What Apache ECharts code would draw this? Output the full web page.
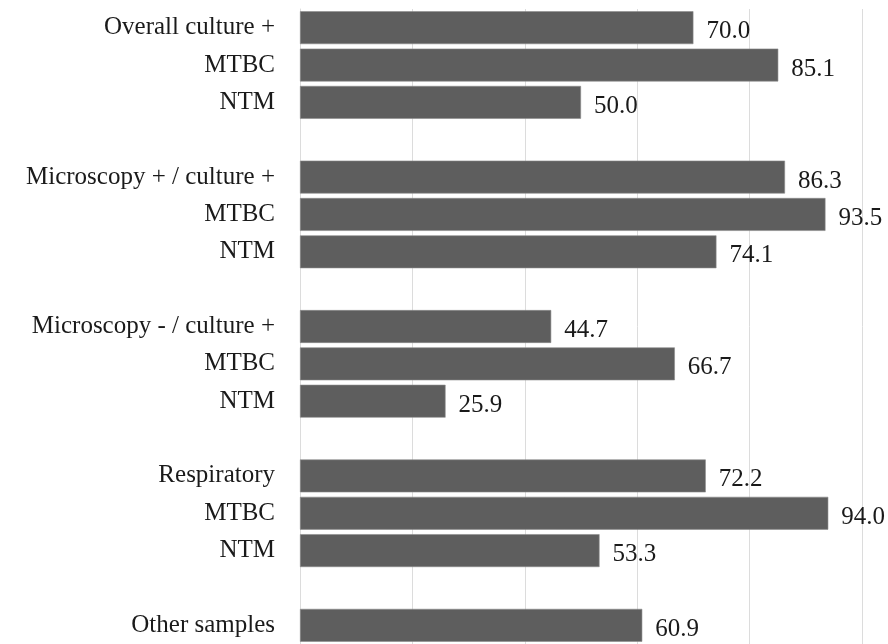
<!DOCTYPE html>
<html>
<head>
<meta charset="utf-8">
<script src="https://cdn.jsdelivr.net/npm/echarts@6/dist/echarts.min.js"></script>
<style>
  html, body { margin: 0; padding: 0; background: #ffffff; }
  #chart { width: 888px; height: 644px; }
</style>
</head>
<body>
<div id="chart"></div>
<script>
// Detection rates (%) per sample group; empty rows separate the groups
const rowLabels = [
  'Overall culture +', 'MTBC', 'NTM', '',
  'Microscopy + / culture +', 'MTBC', 'NTM', '',
  'Microscopy - / culture +', 'MTBC', 'NTM', '',
  'Respiratory', 'MTBC', 'NTM', '',
  'Other samples'
];
const rowValues = [
  70.0, 85.1, 50.0, null,
  86.3, 93.5, 74.1, null,
  44.7, 66.7, 25.9, null,
  72.2, 94.0, 53.3, null,
  60.9
];
const axisMin = 0;
const axisMax = 100;
const axisStep = 20;

// Unique keys per row so repeated names (MTBC, NTM) stay separate categories
const rowKeys = rowLabels.map((_, i) => 'row' + i);

const chart = echarts.init(document.getElementById('chart'), null, { renderer: 'canvas' });
const fontFamily = '"Liberation Serif", "DejaVu Serif", serif';

chart.setOption({
  animation: false,
  backgroundColor: '#ffffff',
  grid: { left: 300, right: 26, top: 9, height: 637.5 },
  xAxis: {
    type: 'value',
    min: axisMin,
    max: axisMax,
    interval: axisStep,
    axisLabel: { show: false },
    axisLine: { show: false },
    axisTick: { show: false },
    splitLine: { show: true, lineStyle: { color: '#dcdcdc', width: 1 } }
  },
  yAxis: {
    type: 'category',
    inverse: true,
    data: rowKeys,
    axisLine: { show: true, lineStyle: { color: '#dcdcdc', width: 1 } },
    axisTick: { show: false },
    axisLabel: {
      margin: 25,
      color: '#1a1a1a',
      fontFamily: fontFamily,
      fontSize: 25,
      formatter: (key) => rowLabels[rowKeys.indexOf(key)]
    }
  },
  series: [{
    type: 'bar',
    data: rowValues,
    barCategoryGap: '12%',
    itemStyle: { color: '#5e5e5e', borderColor: '#8c8c8c', borderWidth: 0.6 },
    label: {
      show: true,
      position: 'right',
      distance: 13,
      offset: [0, 4],
      color: '#1a1a1a',
      fontFamily: fontFamily,
      fontSize: 25,
      formatter: (p) => (p.value == null ? '' : Number(p.value).toFixed(1))
    }
  }]
});
</script>
</body>
</html>
